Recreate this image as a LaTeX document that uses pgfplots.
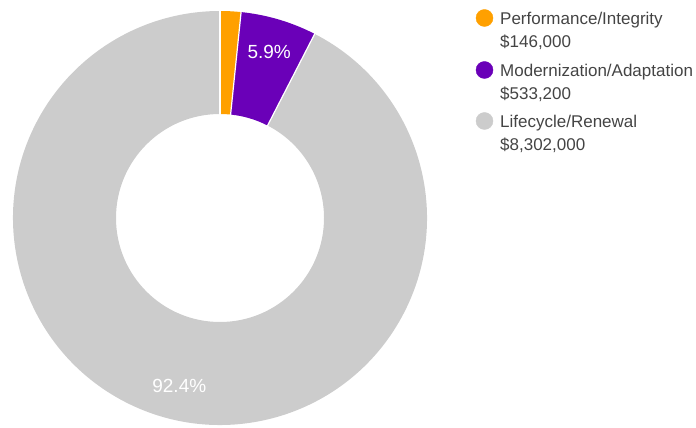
\documentclass[border=0pt]{standalone}
\usepackage{pgfplots}
\pgfplotsset{compat=1.18}
\usepackage{pgfplotstable}
\usepackage{fontspec}
\setmainfont{Liberation Sans}
\definecolor{cOrange}{HTML}{FFA000}
\definecolor{cPurple}{HTML}{6A00B8}
\definecolor{cGray}{HTML}{CCCCCC}
\definecolor{cText}{HTML}{444444}

% budget values, in thousands of dollars
\pgfplotstableread{
label value
Performance 146.0
Modernization 533.2
Lifecycle 8302.0
}\budget

\newcommand\slice[3]{%
  \fill[#3] (axis cs:{220+207*cos(#1)},{210+207*sin(#1)})
    arc[start angle=#1, end angle=#2, radius=207bp]
    -- (axis cs:{220+104*cos(#2)},{210+104*sin(#2)})
    arc[start angle=#2, end angle=#1, radius=104bp] -- cycle;}
\newcommand\sep[1]{%
  \draw[white, line width=1.2bp] (axis cs:{220+103*cos(#1)},{210+103*sin(#1)})
    -- (axis cs:{220+208*cos(#1)},{210+208*sin(#1)});}
\newcommand\plabel[2]{% mid angle, text
  \node[white, font=\fontsize{19bp}{22bp}\selectfont, inner sep=0pt]
    at (axis cs:{220+173*cos(#1)},{210+173*sin(#1)}) {#2\%};}

\begin{document}
\begin{tikzpicture}
\pgfplotstablegetelem{0}{value}\of\budget \pgfmathsetmacro\va{\pgfplotsretval}
\pgfplotstablegetelem{1}{value}\of\budget \pgfmathsetmacro\vb{\pgfplotsretval}
\pgfplotstablegetelem{2}{value}\of\budget \pgfmathsetmacro\vc{\pgfplotsretval}
\pgfmathsetmacro\tot{\va+\vb+\vc}
\pgfmathsetmacro\aA{90}
\pgfmathsetmacro\aB{\aA-360*(\va/\tot)}
\pgfmathsetmacro\aC{\aB-360*(\vb/\tot)}
\pgfmathsetmacro\aD{\aC-360*(\vc/\tot)}
\pgfmathsetmacro\mB{(\aB+\aC)/2}
\pgfmathsetmacro\mC{(\aC+\aD)/2}
\pgfmathsetmacro\pB{100*(\vb/\tot)}
\pgfmathsetmacro\pC{100*(\vc/\tot)}
\pgfmathprintnumberto[fixed, fixed zerofill, precision=1, assume math mode=true]{\pB}{\pBs}
\pgfmathprintnumberto[fixed, fixed zerofill, precision=1, assume math mode=true]{\pC}{\pCs}
\useasboundingbox (0,0) rectangle (696bp,428bp);
\begin{axis}[hide axis, scale only axis, width=696bp, height=428bp,
  xmin=0, xmax=696, ymin=0, ymax=428, clip=false, at={(0,0)}, anchor=south west]
  \slice{\aA}{\aB}{cOrange}
  \slice{\aB}{\aC}{cPurple}
  \slice{\aC}{\aD}{cGray}
  \sep{\aA}\sep{\aB}\sep{\aC}
  \plabel{\mB}{\pBs}
  \plabel{\mC}{\pCs}
  % legend markers
  \addplot[only marks, mark=*, mark size=8.5bp, color=cOrange] coordinates {(484.5,410)};
  \addplot[only marks, mark=*, mark size=8.5bp, color=cPurple] coordinates {(484.5,358)};
  \addplot[only marks, mark=*, mark size=8.5bp, color=cGray] coordinates {(484.5,307)};
  \begin{scope}[every node/.style={anchor=base west, inner sep=0pt, text=cText,
      font=\fontsize{17bp}{20bp}\selectfont}]
    \node at (axis cs:500,403) {Performance/Integrity};
    \node at (axis cs:500,380) {\$146,000};
    \node at (axis cs:500,351) {Modernization/Adaptation};
    \node at (axis cs:500,328) {\$533,200};
    \node at (axis cs:500,300) {Lifecycle/Renewal};
    \node at (axis cs:500,277) {\$8,302,000};
  \end{scope}
\end{axis}
\end{tikzpicture}
\end{document}
